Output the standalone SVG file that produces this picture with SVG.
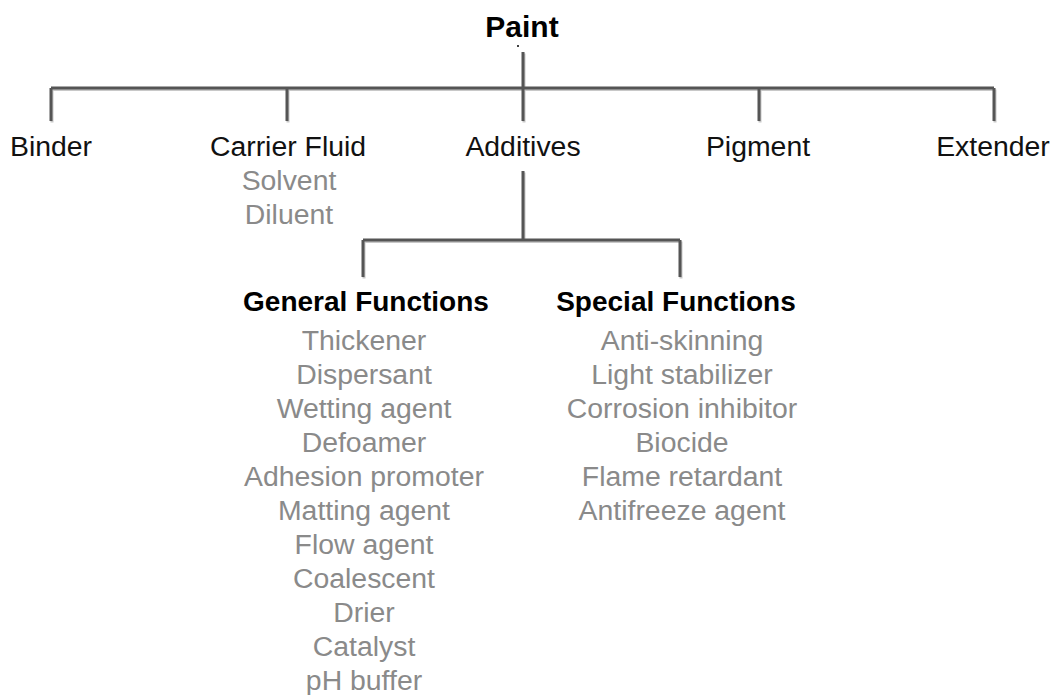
<svg xmlns="http://www.w3.org/2000/svg" width="1052" height="695" viewBox="0 0 1052 695">
<style>
text{font-family:"Liberation Sans",Arial,sans-serif;text-anchor:middle}
.root{font-size:30px;font-weight:bold;fill:#000}
.cat{font-size:28.4px;fill:#111}
.head{font-size:28px;font-weight:bold;fill:#000}
.item{font-size:28.4px;fill:#8a8a8a}
.ln{fill:none;stroke:#555;stroke-width:3;stroke-linecap:butt}
.sh{fill:none;stroke:#c8c8c8;stroke-width:3}
</style>
<rect width="1052" height="695" fill="#fff"/>
<g id="connectors">
<g transform="translate(1,1.5)">
<path class="sh" d="M523 52V88M51 88H994M51 88V121M287 88V121M523 88V121M759 88V121M994 88V121M523 171V240M363 240H680M363 240V277M680 240V277"/>
</g>
<path class="ln" d="M523 52V88M51 88H994M51 88V121M287 88V121M523 88V121M759 88V121M994 88V121M523 171V240M363 240H680M363 240V277M680 240V277"/>
<circle cx="518" cy="46" r="1" fill="#000"/>
</g>
<g id="paint"><text class="root" x="522" y="37">Paint</text></g>
<g id="binder"><text class="cat" x="51" y="156">Binder</text></g>
<g id="carrier-fluid">
<text class="cat" x="288" y="156">Carrier Fluid</text>
<text class="item" x="289" y="190">Solvent</text>
<text class="item" x="289" y="224">Diluent</text>
</g>
<g id="additives"><text class="cat" x="523" y="156">Additives</text></g>
<g id="pigment"><text class="cat" x="758" y="156">Pigment</text></g>
<g id="extender"><text class="cat" x="993" y="156">Extender</text></g>
<g id="general-functions">
<text class="head" x="366" y="311">General Functions</text>
<text class="item" x="364" y="350">Thickener</text>
<text class="item" x="364" y="384">Dispersant</text>
<text class="item" x="364" y="418">Wetting agent</text>
<text class="item" x="364" y="452">Defoamer</text>
<text class="item" x="364" y="486">Adhesion promoter</text>
<text class="item" x="364" y="520">Matting agent</text>
<text class="item" x="364" y="554">Flow agent</text>
<text class="item" x="364" y="588">Coalescent</text>
<text class="item" x="364" y="622">Drier</text>
<text class="item" x="364" y="656">Catalyst</text>
<text class="item" x="364" y="690">pH buffer</text>
</g>
<g id="special-functions">
<text class="head" x="676" y="311">Special Functions</text>
<text class="item" x="682" y="350">Anti-skinning</text>
<text class="item" x="682" y="384">Light stabilizer</text>
<text class="item" x="682" y="418">Corrosion inhibitor</text>
<text class="item" x="682" y="452">Biocide</text>
<text class="item" x="682" y="486">Flame retardant</text>
<text class="item" x="682" y="520">Antifreeze agent</text>
</g>
</svg>
